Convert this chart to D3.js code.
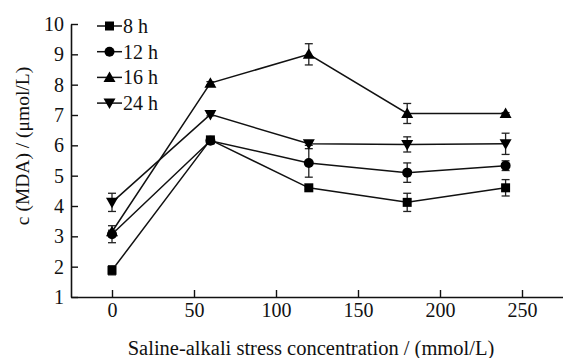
<!DOCTYPE html>
<html>
<head>
<meta charset="utf-8">
<script src="https://cdn.jsdelivr.net/npm/d3@7"></script>
<style>
  body { margin: 0; background: #fff; }
</style>
</head>
<body>
<svg id="chart" width="563" height="358"></svg>
<script>
// concentrations (mmol/L)
var conc = [0, 60, 120, 180, 240];
var seriesNames = ['8 h', '12 h', '16 h', '24 h'];
var symbols = ['square', 'circle', 'triangle', 'triangleDown'];
// MDA values per series
var mda8 = [1.88, 6.18, 4.6, 4.12, 4.6];
var mda12 = [3.07, 6.15, 5.42, 5.1, 5.33];
var mda16 = [3.15, 8.05, 9.0, 7.05, 7.05];
var mda24 = [4.12, 7.02, 6.05, 6.03, 6.05];
// standard errors
var err8 = [0.15, 0.06, 0.05, 0.3, 0.27];
var err12 = [0.28, 0.05, 0.47, 0.32, 0.16];
var err16 = [0.05, 0.05, 0.35, 0.33, 0.03];
var err24 = [0.3, 0.05, 0.05, 0.25, 0.35];
var xTicks = [0, 50, 100, 150, 200, 250];
var yTicks = [1, 2, 3, 4, 5, 6, 7, 8, 9, 10];

var values = [mda8, mda12, mda16, mda24];
var errors = [err8, err12, err16, err24];
var FONT = 'Liberation Serif';

var svg = d3.select('#chart').attr('font-family', FONT);
var x = d3.scaleLinear().domain([-25, 275]).range([71, 563]);
var y = d3.scaleLinear().domain([1, 10]).range([297, 24]);

// axes, ticks pointing inwards
var xAxis = svg.append('g').attr('transform', 'translate(0,297)')
  .call(d3.axisBottom(x).tickValues(xTicks).tickSizeInner(-7).tickSizeOuter(0).tickPadding(6));
var yAxis = svg.append('g').attr('transform', 'translate(71,0)')
  .call(d3.axisLeft(y).tickValues(yTicks).tickSizeInner(-7).tickSizeOuter(0).tickPadding(7));
[xAxis, yAxis].forEach(function (a) {
  a.attr('font-family', FONT).attr('font-size', 20);
  a.select('.domain').attr('stroke', '#111').attr('stroke-width', 1.6);
  a.selectAll('.tick line').attr('stroke', '#111').attr('stroke-width', 1.4);
  a.selectAll('.tick text').attr('fill', '#111');
});

svg.append('text').attr('x', 311).attr('y', 355).attr('text-anchor', 'middle')
  .attr('font-family', FONT).attr('font-size', 20.5).attr('fill', '#111')
  .text('Saline-alkali stress concentration / (mmol/L)');
svg.append('text').attr('transform', 'translate(29,146) rotate(-90)').attr('text-anchor', 'middle')
  .attr('font-family', FONT).attr('font-size', 19.5).attr('fill', '#111')
  .text('c (MDA) / (\u03bcmol/L)');

function drawSymbol(g, kind, cx, cy) {
  if (kind === 'square') {
    g.append('rect').attr('x', cx - 4.5).attr('y', cy - 4.5).attr('width', 9).attr('height', 9).attr('fill', '#000');
  } else if (kind === 'circle') {
    g.append('circle').attr('cx', cx).attr('cy', cy).attr('r', 5).attr('fill', '#000');
  } else if (kind === 'triangle') {
    g.append('path').attr('d', 'M' + cx + ',' + (cy - 6) + 'L' + (cx + 6) + ',' + (cy + 4.5) + 'L' + (cx - 6) + ',' + (cy + 4.5) + 'Z').attr('fill', '#000');
  } else {
    g.append('path').attr('d', 'M' + cx + ',' + (cy + 6) + 'L' + (cx + 6) + ',' + (cy - 4.5) + 'L' + (cx - 6) + ',' + (cy - 4.5) + 'Z').attr('fill', '#000');
  }
}

var line = d3.line().x(function (d) { return x(d[0]); }).y(function (d) { return y(d[1]); });

values.forEach(function (vals, s) {
  var g = svg.append('g');
  var pts = conc.map(function (c, i) { return [c, vals[i]]; });
  g.append('path').attr('d', line(pts)).attr('fill', 'none').attr('stroke', '#111').attr('stroke-width', 1.5);
  pts.forEach(function (p, i) {
    var e = errors[s][i];
    var cx = x(p[0]);
    g.append('line').attr('x1', cx).attr('x2', cx).attr('y1', y(p[1] + e)).attr('y2', y(p[1] - e))
      .attr('stroke', '#222').attr('stroke-width', 1.3);
    [p[1] + e, p[1] - e].forEach(function (v) {
      g.append('line').attr('x1', cx - 4).attr('x2', cx + 4).attr('y1', y(v)).attr('y2', y(v))
        .attr('stroke', '#222').attr('stroke-width', 1.3);
    });
    drawSymbol(g, symbols[s], cx, y(p[1]));
  });
});

// legend
var leg = svg.append('g');
seriesNames.forEach(function (name, i) {
  var ly = 26 + i * 25.7;
  leg.append('line').attr('x1', 97).attr('x2', 122).attr('y1', ly).attr('y2', ly).attr('stroke', '#111').attr('stroke-width', 1.5);
  drawSymbol(leg, symbols[i], 109.5, ly);
  leg.append('text').attr('x', 123).attr('y', ly + 7).attr('font-family', FONT).attr('font-size', 20)
    .attr('fill', '#111').text(name);
});
</script>
</body>
</html>
